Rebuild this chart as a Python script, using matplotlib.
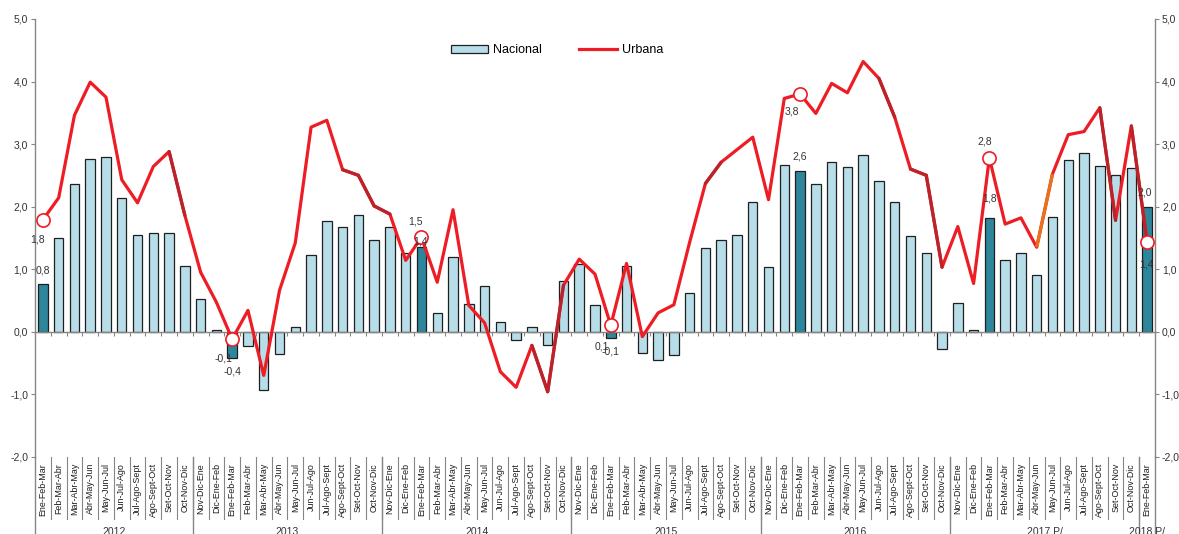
import matplotlib.pyplot as plt
import matplotlib.transforms as mtransforms
from matplotlib.patches import Patch
from matplotlib.lines import Line2D
from matplotlib.ticker import FuncFormatter
import numpy as np

plt.rcParams['font.family'] = ['Liberation Sans', 'DejaVu Sans']

# rolling quarters, Ene-Feb-Mar 2012 .. Ene-Feb-Mar 2018
cycle = ["Nov-Dic-Ene", "Dic-Ene-Feb", "Ene-Feb-Mar", "Feb-Mar-Abr", "Mar-Abr-May",
         "Abr-May-Jun", "May-Jun-Jul", "Jun-Jul-Ago", "Jul-Ago-Sept", "Ago-Sept-Oct",
         "Set-Oct-Nov", "Oct-Nov-Dic"]
periods = cycle[2:] + cycle * 5 + ["Ene-Feb-Mar"]

years = ["2012", "2013", "2014", "2015", "2016", "2017 P/", "2018 P/"]
year_sizes = [10, 12, 12, 12, 12, 12, 1]

nacional = [0.76, 1.50, 2.36, 2.76, 2.79, 2.13, 1.54, 1.57, 1.57, 1.05,
            0.53, 0.03, -0.42, -0.23, -0.93, -0.35, 0.08, 1.23, 1.77, 1.67, 1.86, 1.47,
            1.67, 1.26, 1.36, 0.30, 1.20, 0.45, 0.73, 0.16, -0.14, 0.08, -0.22, 0.81,
            1.08, 0.42, -0.10, 1.05, -0.34, -0.45, -0.38, 0.62, 1.34, 1.46, 1.54, 2.07,
            1.03, 2.66, 2.57, 2.36, 2.72, 2.64, 2.83, 2.41, 2.08, 1.53, 1.25, -0.27,
            0.46, 0.03, 1.81, 1.14, 1.26, 0.90, 1.83, 2.75, 2.86, 2.65, 2.50, 2.62,
            2.00]

urbana = [1.79, 2.14, 3.46, 3.99, 3.75, 2.43, 2.06, 2.64, 2.88, 1.86,
          0.95, 0.47, -0.12, 0.34, -0.70, 0.66, 1.42, 3.27, 3.38, 2.59, 2.50, 2.01,
          1.88, 1.14, 1.51, 0.79, 1.95, 0.42, 0.14, -0.64, -0.89, -0.22, -0.96, 0.74,
          1.16, 0.92, 0.10, 1.09, -0.08, 0.30, 0.43, 1.43, 2.37, 2.71, 2.91, 3.11,
          2.11, 3.73, 3.80, 3.49, 3.97, 3.82, 4.32, 4.05, 3.43, 2.60, 2.50, 1.03,
          1.68, 0.77, 2.78, 1.72, 1.82, 1.35, 2.52, 3.15, 3.20, 3.58, 1.78, 3.29,
          1.43]

# line segments that the original draws in a darker red / orange
dark_segments = [8, 19, 20, 21, 31, 32, 42, 53, 55, 56, 67, 69]
orange_segments = [63]

# label offsets (pixels) for the highlighted Ene-Feb-Mar points
urb_offsets = [(-5, -20), (-9, -19), (-6, 16), (-9, -21), (-8, -17), (-5, 16), (-1, -22)]
nac_offsets = [(0, 14), (0, -14), (-1, 5), (0, -14), (0, 14), (0, 20), (-2, 14)]

LIGHT = '#b7dde8'
DARK = '#2e869c'
RED = '#ee1c24'
GRAY = '#868686'

x = np.arange(len(periods))
nac = np.array(nacional)
urb = np.array(urbana)
hl = [i for i, p in enumerate(periods) if p == "Ene-Feb-Mar"]

fig = plt.figure(figsize=(11.79, 5.34), dpi=100)
ax = fig.add_axes([35 / 1179, 1 - 456.7 / 534, 1120 / 1179, 437.7 / 534])

colors = [DARK if i in hl else LIGHT for i in x]
ax.bar(x, nac, width=0.6, color=colors, edgecolor='#1f1f1f', linewidth=0.9, zorder=2)
ax.plot(x, urb, color=RED, lw=2.3, zorder=3, solid_joinstyle='round')
for s in dark_segments:
    ax.plot(x[s:s + 2], urb[s:s + 2], color='#bb232b', lw=2.3, zorder=3.1,
            solid_capstyle='round')
for s in orange_segments:
    ax.plot(x[s:s + 2], urb[s:s + 2], color='#e8711c', lw=2.3, zorder=3.1,
            solid_capstyle='butt')
ax.plot(x[hl], urb[hl], 'o', ms=9.5, mfc='white', mec=RED, mew=1.2, zorder=4)


def fmt(v):
    return f"{v:.1f}".replace('.', ',')


for k, i in enumerate(hl):
    ax.annotate(fmt(urb[i]), (x[i], urb[i]), xytext=urb_offsets[k],
                textcoords='offset pixels', ha='center', va='center',
                fontsize=7.5, color='#333333', zorder=5)
    ax.annotate(fmt(nac[i]), (x[i], nac[i]), xytext=nac_offsets[k],
                textcoords='offset pixels', ha='center', va='center',
                fontsize=7.5, color='#333333', zorder=5)

ax.set_xlim(-0.5, len(periods) - 0.5)
ax.set_ylim(-2, 5)
ax.set_yticks(np.arange(-2, 5.1, 1))
ax.yaxis.set_major_formatter(FuncFormatter(lambda v, p: fmt(v)))
ax.tick_params(axis='y', length=3, color=GRAY, labelsize=7.5, labelcolor='#333333',
               right=True, labelright=True, pad=2)

ax.spines['bottom'].set_position(('data', 0))
ax.set_xticks(x[:-1] + 0.5)
ax.set_xticklabels([])
ax.tick_params(axis='x', length=3, color=GRAY, direction='out')
ax.spines['top'].set_visible(False)
for side in ['left', 'right', 'bottom']:
    ax.spines[side].set_color(GRAY)
    ax.spines[side].set_linewidth(1)

trans = mtransforms.blended_transform_factory(ax.transData, ax.transAxes)
for i, lab in enumerate(periods):
    ax.text(i, -0.014, lab, transform=trans, rotation=90, ha='center', va='top',
            fontsize=6.4, color='#1a1a1a')
for i in range(len(periods) - 1):
    ax.plot([i + 0.5, i + 0.5], [0, -0.142], transform=trans, color=GRAY,
            lw=0.8, clip_on=False)

edges = np.concatenate([[0], np.cumsum(year_sizes)]) - 0.5
for b in edges:
    ax.plot([b, b], [0, -0.2], transform=trans, color=GRAY, lw=1, clip_on=False)
for k, yr in enumerate(years):
    ax.text((edges[k] + edges[k + 1]) / 2, -0.16, yr, transform=trans,
            ha='center', va='top', fontsize=7.5, color='#333333')

handles = [Patch(facecolor=LIGHT, edgecolor='#1f1f1f', linewidth=0.9, label='Nacional'),
           Line2D([], [], color=RED, lw=2.3, label='Urbana')]
ax.legend(handles=handles, loc='center', bbox_to_anchor=(0.466, 0.929), ncol=2,
          frameon=False, fontsize=9, handlelength=3.0, handleheight=0.6,
          columnspacing=3.0, handletextpad=0.4)

fig.savefig('out.png', dpi=100)
